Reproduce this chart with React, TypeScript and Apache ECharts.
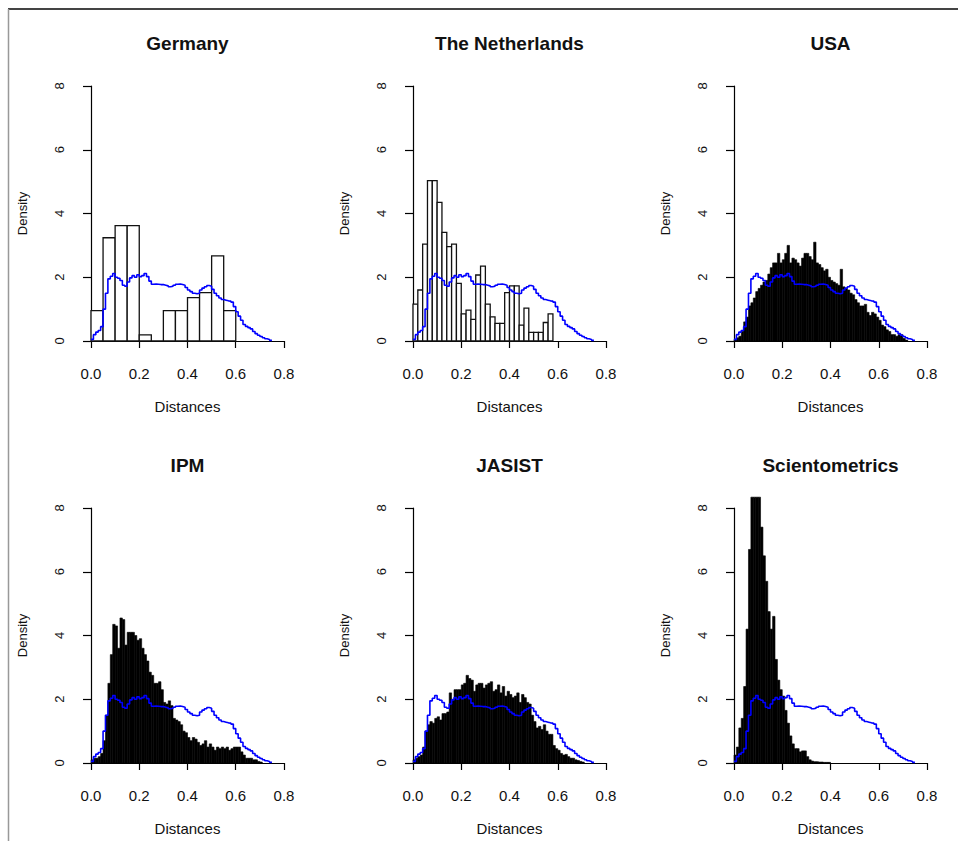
import React, { useEffect, useRef } from "react";
import * as echarts from "echarts";

// Panel titles
const TITLES = ["Germany", "The Netherlands", "USA", "IPM", "JASIST", "Scientometrics"];

// Histogram bin widths (distance units)
const BIN_WIDTHS = [0.05, 0.02, 0.01, 0.01, 0.01, 0.01];

// Histogram densities per bin, starting at distance 0
const GERMANY = [0.95, 3.24, 3.62, 3.62, 0.19, 0, 0.95, 0.95, 1.36, 1.52, 2.67, 0.95];

const NETHERLANDS = [1.16, 1.6, 3.04, 5.03, 5.03, 4.35, 3.41, 2.96, 3.04, 1.81, 0.85, 0.97, 0.68, 2.07, 2.35,
  1.16, 0.76, 0.55, 0.55, 1.52, 1.73, 1.73, 0.5, 1.03, 0.27, 0.27, 0.27, 0.58, 0.85];

const USA = [0.05, 0.1, 0.15, 0.3, 0.6, 0.75, 1.1, 1.2, 1.35, 1.55, 1.65, 1.75, 1.85, 1.9, 2.1, 2.3, 2.45, 2.45,
  2.75, 2.45, 2.55, 2.75, 3.0, 2.45, 2.6, 2.55, 2.45, 2.35, 2.6, 2.75, 2.75, 2.65, 2.55, 3.1, 2.45, 2.4, 2.3, 2.2,
  2.25, 2.0, 1.9, 1.85, 1.8, 1.75, 2.25, 1.7, 1.65, 1.6, 1.5, 1.45, 1.3, 1.2, 1.1, 1.1, 1.15, 0.9, 0.8, 0.9, 0.85,
  0.75, 0.65, 0.5, 0.45, 0.35, 0.3, 0.2, 0.2, 0.15, 0.2, 0.2, 0.08, 0.03];

const IPM = [0.1, 0.15, 0.15, 0.2, 0.3, 0.7, 1.5, 2.5, 3.4, 4.35, 4.3, 3.6, 4.55, 4.5, 3.7, 4.1, 4.1, 4.1, 4.0,
  3.85, 3.9, 3.6, 3.4, 3.2, 2.85, 2.75, 2.5, 2.5, 2.55, 2.3, 1.9, 1.85, 1.95, 1.8, 1.4, 1.35, 1.3, 1.2, 1.0, 0.95,
  0.8, 0.7, 0.8, 0.75, 0.65, 0.55, 0.6, 0.7, 0.5, 0.6, 0.5, 0.4, 0.5, 0.45, 0.5, 0.45, 0.5, 0.4, 0.45, 0.5, 0.5,
  0.5, 0.35, 0.25, 0.15, 0.15, 0.15, 0.1, 0.1, 0.05, 0.03];

const JASIST = [0.1, 0.15, 0.2, 0.25, 0.5, 1.0, 1.2, 1.3, 1.25, 1.4, 1.45, 1.35, 1.55, 1.55, 1.6, 2.2, 2.0, 2.3,
  2.3, 2.3, 2.45, 2.5, 2.75, 2.65, 2.6, 2.25, 2.45, 2.5, 2.5, 2.35, 2.45, 2.5, 2.55, 2.25, 2.3, 2.45, 2.2, 2.4, 2.1,
  2.25, 2.15, 2.05, 2.1, 2.2, 1.9, 2.15, 2.05, 1.9, 1.85, 1.5, 1.3, 1.1, 1.15, 1.05, 1.2, 1.0, 0.9, 0.9, 0.55, 0.45,
  0.4, 0.3, 0.25, 0.27, 0.2, 0.15, 0.15, 0.1, 0.08, 0.05, 0.03];

const SCIENTOMETRICS = [0.25, 0.5, 1.1, 1.4, 2.4, 4.2, 6.7, 8.34, 8.34, 8.34, 8.34, 7.4, 6.5, 5.7, 4.75, 4.2, 4.6,
  3.25, 2.6, 2.3, 2.1, 1.65, 1.25, 0.85, 0.6, 0.45, 0.45, 0.35, 0.38, 0.38, 0.2, 0.1, 0.06, 0.04, 0.04, 0.03, 0.03,
  0.02, 0.02, 0.02];

const HISTS = [GERMANY, NETHERLANDS, USA, IPM, JASIST, SCIENTOMETRICS];
const FILLED = [false, false, true, true, true, true];

// Reference density (blue step line), sampled every 0.01 from 0 to 0.75
const BLUE_STEP = 0.01;
const BLUE = [0.05, 0.2, 0.28, 0.33, 0.45, 1.0, 1.5, 1.95, 2.03, 2.12, 2.0, 1.97, 1.9, 1.75, 1.72, 1.85, 1.98,
  2.05, 2.0, 2.08, 2.02, 2.05, 2.12, 2.02, 1.88, 1.78, 1.79, 1.78, 1.77, 1.77, 1.75, 1.73, 1.7, 1.72, 1.75, 1.78,
  1.79, 1.77, 1.75, 1.68, 1.6, 1.55, 1.5, 1.48, 1.5, 1.6, 1.66, 1.7, 1.74, 1.72, 1.62, 1.5, 1.42, 1.35, 1.3, 1.28,
  1.26, 1.25, 1.22, 1.08, 0.92, 0.78, 0.65, 0.52, 0.46, 0.42, 0.38, 0.3, 0.23, 0.18, 0.14, 0.1, 0.07, 0.05, 0.02, 0.0];

const X_TICKS = [0, 0.2, 0.4, 0.6, 0.8];
const Y_TICKS = [0, 2, 4, 6, 8];

const FONT = "'Liberation Sans', Arial, Helvetica, sans-serif";
const COL_LEFT = [91, 413, 734];
const ROW_TOP = [86, 508];
const PLOT_W = 193;
const PLOT_H = 255;

export default function App() {
  const ref = useRef<HTMLDivElement>(null);

  useEffect(() => {
    if (!ref.current) return;
    const chart = echarts.init(ref.current, undefined, { renderer: "svg" });

    const grids: any[] = [];
    const xAxes: any[] = [];
    const yAxes: any[] = [];
    const series: any[] = [];
    const graphics: any[] = [];

    const axisLineStyle = { color: "#000", width: 1.2 };

    for (let k = 0; k < 6; k++) {
      const col = k % 3;
      const row = Math.floor(k / 3);
      const left = COL_LEFT[col];
      const top = ROW_TOP[row];
      grids.push({ left, top, width: PLOT_W, height: PLOT_H, containLabel: false });
      xAxes.push({
        type: "value",
        gridIndex: k,
        min: X_TICKS[0],
        max: X_TICKS[X_TICKS.length - 1],
        interval: X_TICKS[1] - X_TICKS[0],
        position: "bottom",
        offset: 10,
        axisLine: { show: true, lineStyle: axisLineStyle },
        axisTick: { show: true, length: 7, lineStyle: axisLineStyle },
        axisLabel: {
          formatter: (v: number) => v.toFixed(1),
          fontSize: 15,
          color: "#111",
          margin: 15,
          fontFamily: FONT,
        },
        splitLine: { show: false },
        name: "Distances",
        nameLocation: "middle",
        nameGap: 48,
        nameTextStyle: { fontSize: 15, color: "#111", fontFamily: FONT },
      });
      yAxes.push({
        type: "value",
        gridIndex: k,
        min: Y_TICKS[0],
        max: Y_TICKS[Y_TICKS.length - 1],
        interval: Y_TICKS[1] - Y_TICKS[0],
        position: "left",
        offset: 8,
        axisLine: { show: true, lineStyle: axisLineStyle },
        axisTick: { show: true, length: 8, lineStyle: axisLineStyle },
        axisLabel: {
          rotate: 90,
          fontSize: 13,
          color: "#111",
          margin: 17,
          fontFamily: FONT,
        },
        splitLine: { show: false },
        name: "Density",
        nameLocation: "middle",
        nameGap: 54,
        nameTextStyle: { fontSize: 13, color: "#111", fontFamily: FONT },
      });

      const w = BIN_WIDTHS[k];
      const filled = FILLED[k];
      series.push({
        type: "custom",
        xAxisIndex: k,
        yAxisIndex: k,
        clip: false,
        data: HISTS[k].map((v, i) => [i * w, (i + 1) * w, v]),
        encode: { x: [0, 1], y: 2 },
        renderItem: (params: any, api: any) => {
          const p0 = api.coord([api.value(0), 0]);
          const p1 = api.coord([api.value(1), api.value(2)]);
          return {
            type: "rect",
            shape: { x: p0[0], y: p1[1], width: p1[0] - p0[0], height: p0[1] - p1[1] },
            style: filled
              ? { fill: "#000", stroke: "#000", lineWidth: 0.6 }
              : { fill: "#fff", stroke: "#111", lineWidth: 1.3 },
          };
        },
        z: 2,
      });
      series.push({
        type: "line",
        xAxisIndex: k,
        yAxisIndex: k,
        step: "end",
        symbol: "none",
        data: BLUE.map((v, i) => [i * BLUE_STEP, v]),
        lineStyle: { color: "#0000ff", width: 1.6 },
        z: 3,
      });

      graphics.push({
        type: "text",
        x: left + PLOT_W * 0.5,
        y: top - 43,
        style: {
          text: TITLES[k],
          font: `bold 19px ${FONT}`,
          fill: "#111",
          align: "center",
          verticalAlign: "middle",
        },
      });
    }

    graphics.push({
      type: "line",
      shape: { x1: 8, y1: 9, x2: 958, y2: 9 },
      style: { stroke: "#444", lineWidth: 2 },
    });
    graphics.push({
      type: "line",
      shape: { x1: 8.5, y1: 9, x2: 8.5, y2: 841 },
      style: { stroke: "#999", lineWidth: 1.5 },
    });

    chart.setOption({
      animation: false,
      backgroundColor: "#fff",
      grid: grids,
      xAxis: xAxes,
      yAxis: yAxes,
      series,
      graphic: graphics,
    });

    return () => chart.dispose();
  }, []);

  return (
    <div
      ref={ref}
      style={{ position: "absolute", left: 0, top: 0, width: 958, height: 841, background: "#fff" }}
    />
  );
}
